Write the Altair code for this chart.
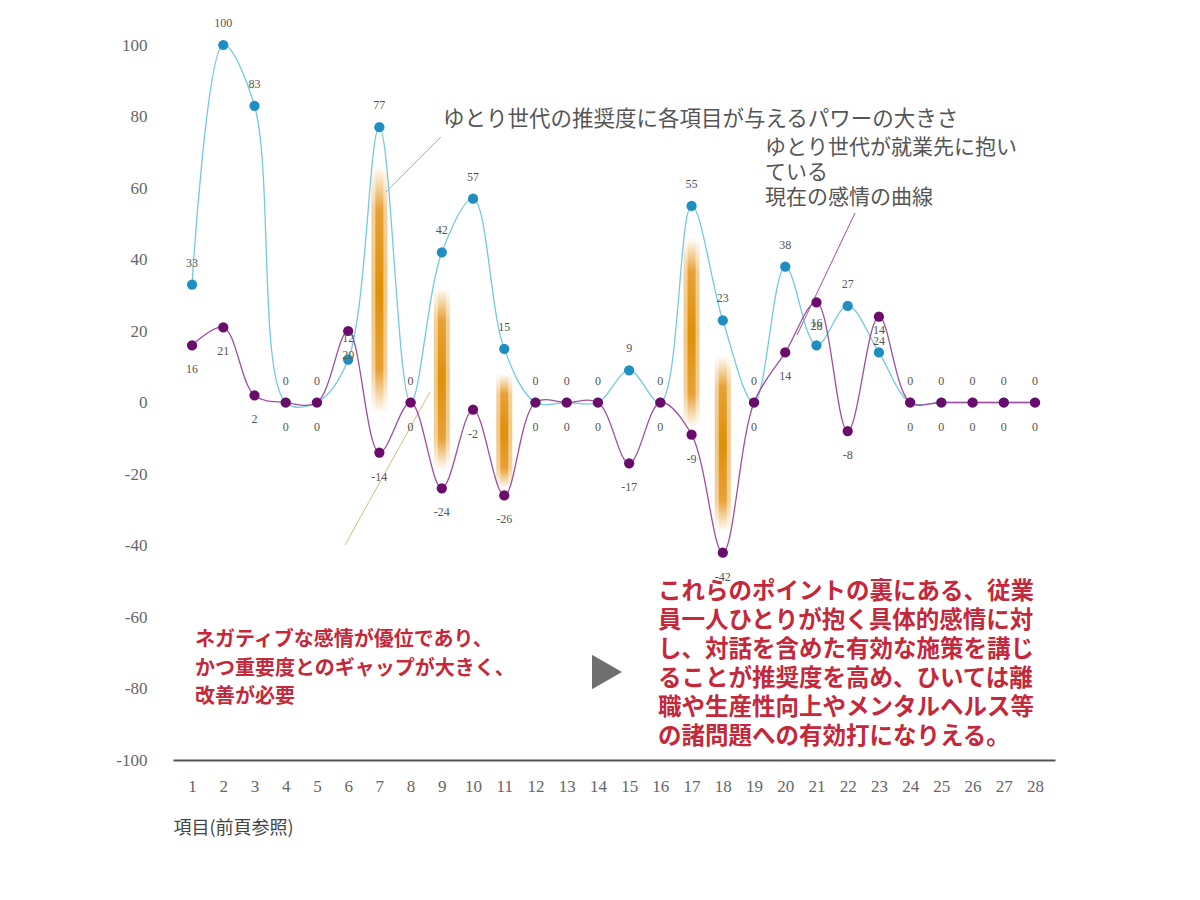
import altair as alt
import pandas as pd

# ---------------- data ----------------
items = list(range(1, 29))
power = [33, 100, 83, 0, 0, 12, 77, 0, 42, 57, 15, 0, 0, 0, 9, 0, 55, 23, 0, 38,
         16, 27, 14, 0, 0, 0, 0, 0]
feeling = [16, 21, 2, 0, 0, 20, -14, 0, -24, -2, -26, 0, 0, 0, -17, 0, -9, -42, 0, 14,
           28, -8, 24, 0, 0, 0, 0, 0]
gap_items = [7, 9, 11, 17, 18]
gap_top = [66, 32, 8, 46, 13]
gap_bottom = [-3, -19, -24, -7, -36]
y_ticks = list(range(-100, 101, 20))

label_power = "ゆとり世代の推奨度に各項目が与えるパワーの大きさ"
label_feeling = ["ゆとり世代が就業先に抱い", "ている", "現在の感情の曲線"]
note_left = ["ネガティブな感情が優位であり、", "かつ重要度とのギャップが大きく、", "改善が必要"]
note_right = ["これらのポイントの裏にある、従業",
              "員一人ひとりが抱く具体的感情に対",
              "し、対話を含めた有効な施策を講じ",
              "ることが推奨度を高め、ひいては離",
              "職や生産性向上やメンタルヘルス等",
              "の諸問題への有効打になりえる。"]
x_title = "項目(前頁参照)"

# ---------------- frames ----------------
power_df = pd.DataFrame({"item": items, "value": power,
                         "label": [str(v) for v in power]})
feeling_df = pd.DataFrame({"item": items, "value": feeling,
                           "label": [str(v) for v in feeling]})
gap_df = pd.DataFrame({"item": gap_items, "top": gap_top, "bottom": gap_bottom})

SERIF = "Liberation Serif"
JP = "Noto Sans CJK JP"

x_scale = alt.Scale(domain=[0.55, 28.48], nice=False, zero=False)
y_scale = alt.Scale(domain=[-100, 100], nice=False)

x_axis = alt.Axis(values=items, grid=False, ticks=False, domain=True, domainColor="#555555",
                  domainWidth=2, labelFont=SERIF, labelFontSize=17, labelColor="#666666",
                  labelPadding=18, labelAngle=0, title=x_title, titleFont=JP, titleFontSize=18,
                  titleFontWeight="normal", titleColor="#444444", titleAnchor="start",
                  titleAlign="left", titleX=0, titleY=68, titleBaseline="middle")
y_axis = alt.Axis(values=y_ticks, grid=False, ticks=False, domain=False, labelFont=SERIF,
                  labelFontSize=17, labelColor="#666666", labelPadding=26, title=None,
                  labelExpr="'' + datum.value")

X = alt.X("item:Q", scale=x_scale, axis=x_axis)

grad = {
    "gradient": "radial",
    "x1": 0.5, "y1": 0.5, "r1": 0,
    "x2": 0.5, "y2": 0.5, "r2": 0.5,
    "stops": [
        {"offset": 0, "color": "#df9008"},
        {"offset": 0.65, "color": "#e8a136"},
        {"offset": 1, "color": "#ffffff"},
    ],
}

bars_wide = alt.Chart(gap_df).mark_bar(width=16, fill=grad, opacity=0.5).encode(
    x=X, y=alt.Y("top:Q", scale=y_scale, axis=y_axis), y2="bottom:Q")
bars_core = alt.Chart(gap_df).mark_bar(width=8, fill=grad, opacity=1).encode(
    x=X, y=alt.Y("top:Q", scale=y_scale, axis=y_axis), y2="bottom:Q")


def series(df, line_color, point_color, dy):
    base = alt.Chart(df).encode(x=X, y=alt.Y("value:Q", scale=y_scale, axis=y_axis))
    line = base.mark_line(interpolate="catmull-rom", strokeWidth=1.3, color=line_color)
    pts = base.mark_circle(size=105, opacity=1, color=point_color)
    txt = base.mark_text(dy=dy, font=SERIF, fontSize=12, color="#555555").encode(
        text="label:N")
    return line, pts, txt


p_line, p_pts, p_txt = series(power_df, "#74c9e2", "#1f8fc2", -22)
f_line, f_pts, f_txt = series(feeling_df, "#a04ea0", "#6a0c6a", 24)

one = alt.Data(values=[{}])

lead1 = alt.Chart(one).mark_rule(color="#8cbccc", strokeWidth=1).encode(
    x=alt.value(268), y=alt.value(92), x2=alt.value(213), y2=alt.value(147))
lead2 = alt.Chart(one).mark_rule(color="#a050a0", strokeWidth=1).encode(
    x=alt.value(682), y=alt.value(168), x2=alt.value(624), y2=alt.value(290))
lead3 = alt.Chart(one).mark_rule(color="#d8bc78", strokeWidth=1).encode(
    x=alt.value(257), y=alt.value(347), x2=alt.value(172), y2=alt.value(500))

t_power = alt.Chart(one).mark_text(text=label_power, font=JP, fontSize=21.5, color="#555555",
                                   align="left", baseline="middle").encode(
    x=alt.value(270), y=alt.value(75))
t_feel = alt.Chart(one).mark_text(text=label_feeling, font=JP, fontSize=21, color="#555555",
                                  align="left", baseline="middle", lineHeight=25).encode(
    x=alt.value(592), y=alt.value(103))
t_left = alt.Chart(one).mark_text(text=note_left, font=JP, fontSize=20, fontWeight=600,
                                  color="#c4283a", align="left", baseline="middle",
                                  lineHeight=28.5).encode(
    x=alt.value(22), y=alt.value(595))
t_right = alt.Chart(one).mark_text(text=note_right, font=JP, fontSize=23.5, fontWeight=600,
                                   color="#c4283a", align="left", baseline="middle",
                                   lineHeight=29).encode(
    x=alt.value(485), y=alt.value(547))
tri = alt.Chart(one).mark_point(shape="triangle-right", size=1200, filled=True,
                                color="#6f6f6f", opacity=1).encode(
    x=alt.value(434), y=alt.value(627))

chart = alt.layer(
    bars_wide, bars_core,
    lead1, lead2, lead3,
    p_line, f_line, p_pts, f_pts, p_txt, f_txt,
    t_power, t_feel, t_left, t_right, tri,
).properties(
    width=882, height=715,
    autosize=alt.AutoSizeParams(type="none"),
    padding={"left": 165, "top": 37, "right": 20, "bottom": 100},
    background="#ffffff",
).configure_view(strokeWidth=0)

chart.save("out.html", embed_options={"renderer": "svg", "actions": False})
